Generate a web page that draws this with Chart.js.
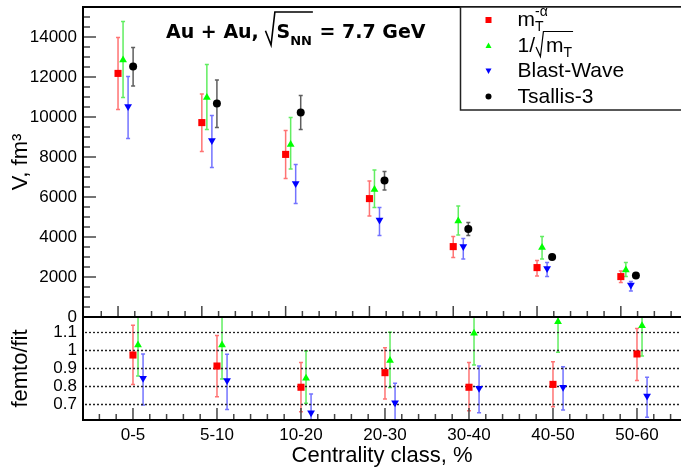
<!DOCTYPE html>
<html lang="en">
<head>
<meta charset="UTF-8">
<title>Au + Au volumes</title>
<script src="https://cdn.jsdelivr.net/npm/chart.js"></script>
<style>
  body { margin: 0; background: #fff; }
  #wrap { position: relative; width: 681px; height: 469px; overflow: hidden; }
  #wrap canvas { position: absolute; left: 0; top: 0; }
</style>
</head>
<body>
<div id="wrap">
  <canvas id="ratio" width="681" height="469"></canvas>
  <canvas id="volume" width="681" height="469"></canvas>
</div>
<script>
const categories = ['0-5', '5-10', '10-20', '20-30', '30-40', '40-50', '50-60'];

// top panel: V, fm^3 (value, lower and upper end of error bar)
const mtAlphaV  = [12180, 9720, 8130, 5920, 3520, 2470, 2020];
const mtAlphaLo = [10380, 8280, 6920, 5050, 2970, 2050, 1720];
const mtAlphaHi = [13970, 11150, 9320, 6800, 4020, 2820, 2300];

const invSqrtV  = [12850, 10970, 8630, 6380, 4800, 3470, 2350];
const invSqrtLo = [10970, 9380, 7400, 5470, 4100, 2900, 2020];
const invSqrtHi = [14770, 12630, 9970, 7350, 5550, 4020, 2720];

const blastV  = [10520, 8820, 6680, 4850, 3520, 2430, 1600];
const blastLo = [8930, 7480, 5670, 4070, 2900, 2020, 1300];
const blastHi = [12020, 10070, 7620, 5480, 3930, 2720, 1770];

const tsallisV  = [12520, 10670, 10220, 6820, 4400, 3000, 2070];
const tsallisLo = [11550, 9480, 9380, 6350, 4070, 2920, 1990];
const tsallisHi = [13470, 11850, 11070, 7270, 4730, 3080, 2150];

// bottom panel: femto/fit
const mtAlphaR   = [0.972, 0.911, 0.793, 0.874, 0.793, 0.809, 0.978];
const mtAlphaRLo = [0.809, 0.740, 0.657, 0.728, 0.663, 0.685, 0.830];
const mtAlphaRHi = [1.137, 1.080, 0.930, 1.013, 0.930, 0.935, 1.120];

const invSqrtR   = [1.028, 1.028, 0.843, 0.941, 1.093, 1.157, 1.135];
const invSqrtRLo = [0.856, 0.839, 0.704, 0.791, 0.917, 0.987, 0.967];
const invSqrtRHi = [1.200, 1.217, 0.994, 1.098, 1.269, 1.327, 1.303];

const blastR   = [0.843, 0.830, 0.652, 0.707, 0.787, 0.793, 0.744];
const blastRLo = [0.694, 0.670, 0.548, 0.599, 0.652, 0.667, 0.626];
const blastRHi = [0.978, 0.976, 0.756, 0.815, 0.911, 0.907, 0.848];

const volumeTicks = [0, 2000, 4000, 6000, 8000, 10000, 12000, 14000];
const ratioTicks = [0.7, 0.8, 0.9, 1.0, 1.1];

const FONT = '"Liberation Sans", Arial, sans-serif';
Chart.defaults.font.family = FONT;
Chart.defaults.color = '#000';

// marker styles, per series
const styles = {
  mtAlpha: { color: '#ff0000', err: 'rgba(255,40,40,0.65)', pointStyle: 'rect', radius: 5, rotation: 0, shift: 0 },
  invSqrt: { color: '#00ff00', err: 'rgba(30,230,30,0.7)', pointStyle: 'triangle', radius: 4.5, rotation: 0, shift: 0.06 },
  blast:   { color: '#0000ff', err: 'rgba(40,40,255,0.65)', pointStyle: 'triangle', radius: 4.5, rotation: 180, shift: 0.12 },
  tsallis: { color: '#000000', err: 'rgba(40,40,40,0.75)', pointStyle: 'circle', radius: 4, rotation: 0, shift: 0.18 }
};

function series(label, key, vals, lo, hi) {
  const s = styles[key];
  return {
    label: label,
    data: vals.map((v, i) => ({ x: i + s.shift, y: v })),
    errLo: lo, errHi: hi, errColor: s.err,
    pointStyle: s.pointStyle, pointRadius: s.radius, pointRotation: s.rotation,
    pointBackgroundColor: s.color, pointBorderWidth: 0, showLine: false
  };
}

const errorBars = {
  id: 'errorBars',
  beforeDatasetsDraw(chart) {
    const { ctx, chartArea: a, scales: { y } } = chart;
    ctx.save();
    ctx.beginPath();
    ctx.rect(a.left, a.top - 1, a.width, a.height + 2);
    ctx.clip();
    ctx.lineWidth = 1.5;
    chart.data.datasets.forEach((ds, i) => {
      ctx.strokeStyle = ds.errColor;
      chart.getDatasetMeta(i).data.forEach((pt, j) => {
        const top = y.getPixelForValue(ds.errHi[j]);
        const bot = y.getPixelForValue(ds.errLo[j]);
        ctx.beginPath();
        ctx.moveTo(pt.x, top); ctx.lineTo(pt.x, bot);
        ctx.moveTo(pt.x - 2, top); ctx.lineTo(pt.x + 2, top);
        ctx.moveTo(pt.x - 2, bot); ctx.lineTo(pt.x + 2, bot);
        ctx.stroke();
      });
    });
    ctx.restore();
  }
};

function line(ctx, x1, y1, x2, y2) {
  ctx.beginPath(); ctx.moveTo(x1, y1); ctx.lineTo(x2, y2); ctx.stroke();
}

function xTicks(ctx, x, yPix, left, major, minor) {
  for (let k = Math.ceil(x.min * 5); k <= Math.floor(x.max * 5); k++) {
    const px = x.getPixelForValue(k / 5);
    if (px < left + 2) continue;
    line(ctx, px, yPix, px, yPix - (k % 5 === 0 ? major : minor));
  }
}

function sqrtSign(ctx, x0, base, down, up, x1) {
  ctx.beginPath();
  ctx.moveTo(x0, base - down * 0.9);
  ctx.lineTo(x0 + up * 0.22, base + down);
  ctx.lineTo(x0 + up * 0.37, base - up);
  ctx.lineTo(x1, base - up);
  ctx.stroke();
}

function marker(ctx, style, cx, cy, r) {
  ctx.fillStyle = style.color;
  ctx.beginPath();
  if (style.pointStyle === 'rect') {
    ctx.rect(cx - r, cy - r, 2 * r, 2 * r);
  } else if (style.pointStyle === 'circle') {
    ctx.arc(cx, cy, r, 0, Math.PI * 2);
  } else {
    const d = style.rotation ? -1 : 1;
    ctx.moveTo(cx, cy - d * r);
    ctx.lineTo(cx + r, cy + d * r * 0.8);
    ctx.lineTo(cx - r, cy + d * r * 0.8);
    ctx.closePath();
  }
  ctx.fill();
}

function drawTitle(ctx) {
  const big = 'bold 19px "DejaVu Sans"';
  const small = 'bold 13px "DejaVu Sans"';
  const base = 37.5;
  let x = 166;
  ctx.fillStyle = '#000';
  ctx.textBaseline = 'alphabetic';
  ctx.textAlign = 'left';
  ctx.font = big;
  ctx.fillText('Au + Au, ', x, base);
  x += ctx.measureText('Au + Au, ').width;
  const sx = x;
  x += 11;
  ctx.fillText('S', x, base);
  x += ctx.measureText('S').width;
  ctx.font = small;
  ctx.fillText('NN', x, base + 7);
  x += ctx.measureText('NN').width + 1;
  ctx.strokeStyle = '#000';
  ctx.lineWidth = 1.6;
  sqrtSign(ctx, sx, base, 7.5, 25.5, x);
  ctx.font = big;
  ctx.fillText(' = 7.7 GeV', x, base);
}

function drawLegend(ctx) {
  const left = 460.5, top = 7, right = 700, bottom = 110;
  ctx.fillStyle = '#fff';
  ctx.fillRect(left, top, right - left, bottom - top);
  ctx.strokeStyle = '#222';
  ctx.lineWidth = 1.5;
  ctx.strokeRect(left, top, right - left, bottom - top);

  const mx = left + 28, tx = left + 57;
  const rows = [styles.mtAlpha, styles.invSqrt, styles.blast, styles.tsallis];
  rows.forEach((s, i) => {
    const base = top + 19 + 25.5 * i;
    marker(ctx, s, mx, base - 6, 3);
  });

  ctx.fillStyle = '#000';
  ctx.textAlign = 'left';
  ctx.textBaseline = 'alphabetic';
  const big = '21px ' + FONT, small = '14px ' + FONT;
  // row 1: m_T^{-alpha}
  let b = top + 19;
  ctx.font = big;
  ctx.fillText('m', tx, b);
  let x = tx + ctx.measureText('m').width;
  ctx.font = small;
  ctx.fillText('T', x, b + 5);
  ctx.fillText('-α', x, b - 10);
  // row 2: 1/sqrt(m_T)
  b = top + 19 + 25.5;
  ctx.font = big;
  ctx.fillText('1/', tx, b);
  x = tx + ctx.measureText('1/').width + 1;
  const sx = x;
  x += 10;
  ctx.fillText('m', x, b);
  x += ctx.measureText('m').width;
  ctx.font = small;
  ctx.fillText('T', x, b + 5);
  x += ctx.measureText('T').width + 1;
  ctx.strokeStyle = '#000';
  ctx.lineWidth = 1.2;
  sqrtSign(ctx, sx, b, 5, 20, x);
  // rows 3, 4
  ctx.font = big;
  ctx.fillText('Blast-Wave', tx, top + 19 + 51);
  ctx.fillText('Tsallis-3', tx, top + 19 + 76.5);
}

// count dark, opaque pixels just left of a point
function darkInk(ctx, px, py) {
  const d = ctx.getImageData(Math.round(px) - 12, Math.round(py) - 8, 12, 16).data;
  let n = 0;
  for (let i = 0; i < d.length; i += 4) if (d[i + 3] > 100 && d[i] < 128) n++;
  return n;
}

const volumeDecor = {
  id: 'volumeDecor',
  afterDraw(chart) {
    const { ctx, chartArea: a, scales: { x, y } } = chart;
    ctx.save();
    ctx.strokeStyle = '#444';
    ctx.lineWidth = 1.5;
    for (let v = 0; v <= y.max; v += 500) {
      const py = y.getPixelForValue(v);
      line(ctx, a.left, py, a.left + (v % 2000 === 0 ? 13 : 7), py);
    }
    xTicks(ctx, x, a.bottom, a.left, 11, 6);
    ctx.strokeStyle = '#000';
    ctx.lineWidth = 2;
    ctx.beginPath();
    ctx.moveTo(a.right + 10, a.top);
    ctx.lineTo(a.left, a.top);
    ctx.lineTo(a.left, a.bottom);
    ctx.lineTo(a.right + 10, a.bottom);
    ctx.stroke();
    drawTitle(ctx);
    drawLegend(ctx);
    // the "0" label sits right on the panel join; put it back if it is not there
    const zx = a.left - 6, zy = y.getPixelForValue(volumeTicks[0]);
    if (darkInk(ctx, zx, zy) < 10) {
      ctx.globalCompositeOperation = 'source-over';
      ctx.globalAlpha = 1;
      ctx.font = '17px ' + FONT;
      ctx.fillStyle = '#000';
      ctx.textAlign = 'right';
      ctx.textBaseline = 'middle';
      ctx.fillText(String(volumeTicks[0]), zx, zy);
    }
    ctx.restore();
  }
};

const ratioDecor = {
  id: 'ratioDecor',
  beforeDatasetsDraw(chart) {
    const { ctx, chartArea: a, scales: { y } } = chart;
    ctx.save();
    ctx.strokeStyle = '#222';
    ctx.lineWidth = 1.3;
    ctx.setLineDash([2, 2]);
    ratioTicks.forEach(v => {
      const py = Math.round(y.getPixelForValue(v)) + 0.5;
      line(ctx, a.left + 2, py, a.right, py);
    });
    ctx.restore();
  },
  afterDraw(chart) {
    const { ctx, chartArea: a, scales: { x } } = chart;
    ctx.save();
    ctx.strokeStyle = '#444';
    ctx.lineWidth = 1.5;
    xTicks(ctx, x, a.bottom, a.left, 12, 6);
    ctx.strokeStyle = '#000';
    ctx.lineWidth = 2;
    ctx.beginPath();
    ctx.moveTo(a.left, a.top);
    ctx.lineTo(a.left, a.bottom);
    ctx.lineTo(a.right + 10, a.bottom);
    ctx.stroke();
    ctx.restore();
  }
};

// keep the plot frames exactly where the padding puts them
function fitY(s) { s.width = 83; s.paddingTop = 0; s.paddingBottom = 0; }
function fitX(s) { s.height = 49; s.paddingLeft = 0; s.paddingRight = 0; }

new Chart(document.getElementById('ratio'), {
  type: 'scatter',
  data: {
    datasets: [
      series('mT^-alpha', 'mtAlpha', mtAlphaR, mtAlphaRLo, mtAlphaRHi),
      series('1/sqrt(mT)', 'invSqrt', invSqrtR, invSqrtRLo, invSqrtRHi),
      series('Blast-Wave', 'blast', blastR, blastRLo, blastRHi)
    ]
  },
  options: {
    responsive: false,
    animation: false,
    devicePixelRatio: 1,
    events: [],
    layout: { autoPadding: false, padding: { top: 317, left: 0, right: 0, bottom: 0 } },
    plugins: { legend: { display: false }, tooltip: { enabled: false } },
    scales: {
      x: {
        type: 'linear', min: -0.595, max: 6.524,
        afterBuildTicks: s => { s.ticks = categories.map((c, i) => ({ value: i })); },
        afterFit: fitX,
        grid: { display: false, drawTicks: false },
        border: { display: false },
        ticks: { padding: 5, font: { size: 17 }, color: '#000', maxRotation: 0, autoSkip: false,
                 callback: v => categories[v] },
        title: { display: true, text: 'Centrality class, %', font: { size: 22 }, padding: { top: 0, bottom: 0 } }
      },
      y: {
        min: 0.6111, max: 1.1833,
        afterBuildTicks: s => { s.ticks = ratioTicks.map(v => ({ value: v })); },
        afterFit: fitY,
        grid: { display: false, drawTicks: false },
        border: { display: false },
        ticks: { padding: 6, font: { size: 17 }, color: '#000', callback: v => String(Math.round(v * 10) / 10) },
        title: { display: true, text: 'femto/fit', font: { size: 22 }, padding: { top: 8 } }
      }
    }
  },
  plugins: [errorBars, ratioDecor]
});

new Chart(document.getElementById('volume'), {
  type: 'scatter',
  data: {
    datasets: [
      series('mT^-alpha', 'mtAlpha', mtAlphaV, mtAlphaLo, mtAlphaHi),
      series('1/sqrt(mT)', 'invSqrt', invSqrtV, invSqrtLo, invSqrtHi),
      series('Blast-Wave', 'blast', blastV, blastLo, blastHi),
      series('Tsallis-3', 'tsallis', tsallisV, tsallisLo, tsallisHi)
    ]
  },
  options: {
    responsive: false,
    animation: false,
    devicePixelRatio: 1,
    events: [],
    layout: { autoPadding: false, padding: { top: 7, left: 0, right: 0, bottom: 152 } },
    plugins: { legend: { display: false }, tooltip: { enabled: false } },
    scales: {
      x: { type: 'linear', min: -0.418, max: 6.718, display: false },
      y: {
        min: 0, max: 15500,
        afterBuildTicks: s => { s.ticks = volumeTicks.map(v => ({ value: v })); },
        afterFit: fitY,
        grid: { display: false, drawTicks: false },
        border: { display: false },
        ticks: { padding: 6, font: { size: 17 }, color: '#000', callback: v => String(v) },
        title: { display: true, text: 'V, fm³', font: { size: 22 }, padding: { top: 8 } }
      }
    }
  },
  plugins: [errorBars, volumeDecor]
});
</script>
</body>
</html>
